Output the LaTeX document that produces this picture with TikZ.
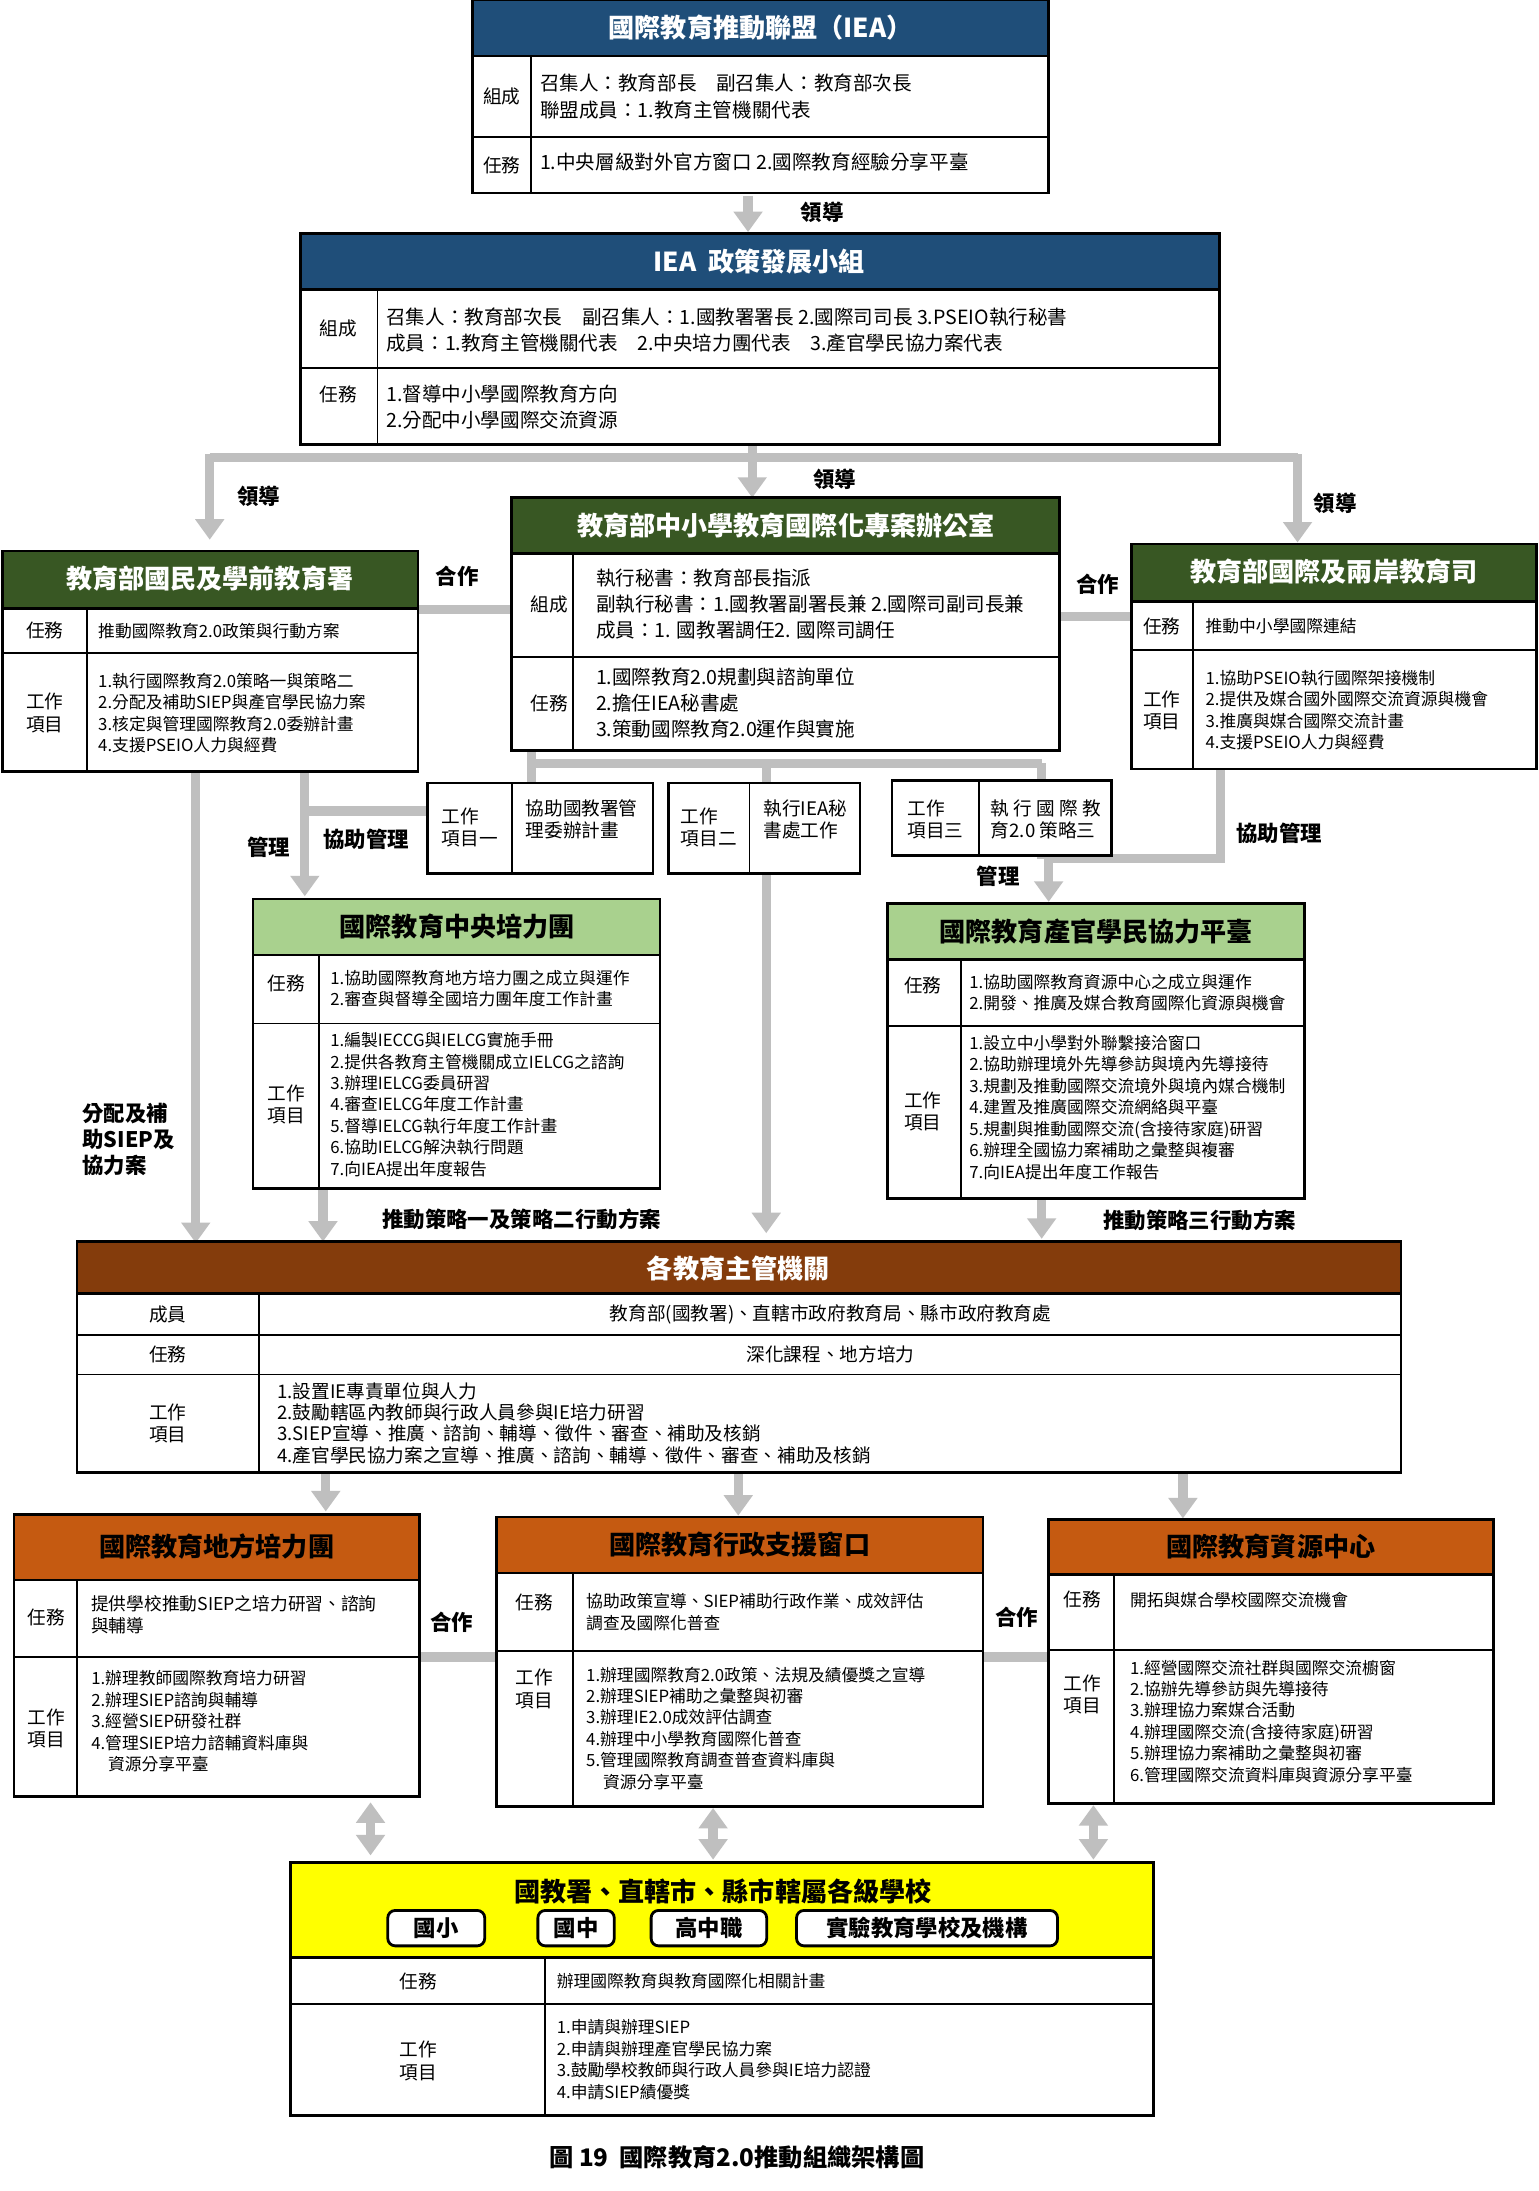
\documentclass[tikz,border=0pt]{standalone}
\usepackage{fontspec}
\setmainfont{Noto Sans CJK TC}
\usetikzlibrary{arrows.meta}
\definecolor{gb}{HTML}{BFBFBF}
\definecolor{iblue}{HTML}{1F4E79}
\definecolor{dgreen}{HTML}{385723}
\definecolor{lgreen}{HTML}{A9D18E}
\definecolor{brown}{HTML}{843C0C}
\definecolor{orng}{HTML}{C55A11}
\definecolor{yel}{HTML}{FFFF00}
\tikzset{
 bx/.style={draw=black,line width=1.5pt},
 ln/.style={draw=black,line width=1pt},
 T/.style={inner sep=0pt,anchor=west,align=left,font=\fontsize{9}{11.5}\selectfont},
 TM/.style={inner sep=0pt,anchor=west,align=left,font=\fontsize{10.5}{14}\selectfont},
 L/.style={inner sep=0pt,align=center,font=\fontsize{10}{12}\selectfont},
 TT/.style={inner sep=0pt,font=\bfseries\fontsize{14}{16}\selectfont},
 LB/.style={inner sep=0pt,font=\bfseries\fontsize{11.5}{14}\selectfont,align=left},
 ga/.style={draw=gb,line width=5pt,-{Triangle[width=15pt,length=11pt]}},
 gl/.style={draw=gb,line width=5pt},
 gd/.style={draw=gb,line width=5pt,{Triangle[width=15pt,length=11pt]}-{Triangle[width=15pt,length=11pt]}},
 btn/.style={draw=black,line width=1.5pt,rounded corners=4pt,fill=white,minimum height=19pt,inner sep=0pt,font=\bfseries\fontsize{12}{14}\selectfont},
}
\begin{document}
\begin{tikzpicture}[x=0.75pt,y=-0.75pt]
\useasboundingbox[fill=white] (0,0) rectangle (1100,1567);
% ---------- connectors (drawn first) ----------
\draw[ga] (535,140) -- (535,166);
\node[LB] at (588,152) {領導};
\draw[gl] (150,327) -- (928,327);
\draw[ga] (150,325) -- (150,386);
\draw[ga] (538,318) -- (538,356);
\draw[ga] (928,325) -- (928,388);
\node[LB] at (185,355) {領導};
\node[LB] at (597,343) {領導};
\node[LB] at (955,360) {領導};
\draw[gl] (299,436) -- (366,436); \node[LB] at (327,412) {合作};
\draw[gl] (758,441) -- (809,441); \node[LB] at (785,418) {合作};
\draw[gl] (380,546) -- (745,546);
\draw[gl] (380,537) -- (380,560);
\draw[gl] (745,546) -- (745,558);
\draw[ga] (548,546) -- (548,882);
\draw[ga] (140,552) -- (140,889);
\draw[ga] (218,552) -- (218,641);
\draw[gl] (218,580) -- (306,580);
\node[LB] at (192,606) {管理};
\node[LB] at (262,600) {協助管理};
\draw[gl] (873,550) -- (873,614) -- (750,614);
\draw[ga] (750,612) -- (750,645);
\draw[gl] (745,612) -- (745,614);
\node[LB] at (714,627) {管理};
\node[LB] at (915,596) {協助管理};
\node[LB,align=left] at (92,815) {分配及補\\助SIEP及\\協力案};
\draw[ga] (231,850) -- (231,888);
\node[LB] at (373,872) {推動策略一及策略二行動方案};
\draw[ga] (745,857) -- (745,886);
\node[LB] at (858,873) {推動策略三行動方案};
\draw[ga] (233,1053) -- (233,1081);
\draw[ga] (528,1053) -- (528,1084);
\draw[ga] (846,1053) -- (846,1086);
\draw[gl] (300,1185) -- (355,1185); \node[LB] at (323,1160) {合作};
\draw[gl] (703,1185) -- (750,1185); \node[LB] at (727,1157) {合作};
\draw[gd] (265,1289) -- (265,1327);
\draw[gd] (510,1293) -- (510,1330);
\draw[gd] (782,1291) -- (782,1330);
% ---------- IEA ----------
\draw[bx,fill=iblue] (338,0) rectangle (750,40);
\node[TT,text=white] (iea) at (544,20) {國際教育推動聯盟（IEA）};
\draw[bx] (338,40) rectangle (750,138);
\draw[ln] (338,98) -- (750,98); \draw[ln] (380,40) -- (380,138);
\node[L] at (359,69) {組成}; \node[L] at (359,118) {任務};
\node[TM] at (386,69) {召集人：教育部長\quad 副召集人：教育部次長\\聯盟成員：1.教育主管機關代表};
\node[TM] at (386,116) {1.中央層級對外官方窗口\ 2.國際教育經驗分享平臺};
% ---------- policy group ----------
\draw[bx,fill=iblue] (215,167) rectangle (872,207);
\node[TT,text=white] (pg) at (543,187) {IEA\ \ 政策發展小組};
\draw[bx] (215,207) rectangle (872,318);
\draw[ln] (215,263) -- (872,263); \draw[ln] (270,207) -- (270,318);
\node[L] at (242,235) {組成}; \node[L] at (242,282) {任務};
\node[TM] at (276,236) {召集人：教育部次長\quad 副召集人：1.國教署署長\ 2.國際司司長\ 3.PSEIO執行秘書\\成員：1.教育主管機關代表\quad 2.中央培力團代表\quad 3.產官學民協力案代表};
\node[TM] at (276,291) {1.督導中小學國際教育方向\\2.分配中小學國際交流資源};
% ---------- middle office ----------
\draw[bx,fill=dgreen] (366,356) rectangle (758,396);
\node[TT,text=white] (mo) at (562,376) {教育部中小學教育國際化專案辦公室};
\draw[bx] (366,396) rectangle (758,537);
\draw[ln] (366,470) -- (758,470); \draw[ln] (410,396) -- (410,537);
\node[L] at (393,432) {組成}; \node[L] at (393,503) {任務};
\node[TM] at (426,432) {執行秘書：教育部長指派\\副執行秘書：1.國教署副署長兼\ 2.國際司副司長兼\\成員：1. 國教署調任2. 國際司調任};
\node[TM] at (426,503) {1.國際教育2.0規劃與諮詢單位\\2.擔任IEA秘書處\\3.策動國際教育2.0運作與實施};
% ---------- left dept ----------
\draw[bx,fill=dgreen] (2,394) rectangle (299,435);
\node[TT,text=white] (ld) at (150,414) {教育部國民及學前教育署};
\draw[bx] (2,435) rectangle (299,552);
\draw[ln] (2,467) -- (299,467); \draw[ln] (62,435) -- (62,552);
\node[L] at (32,451) {任務}; \node[L] at (32,510) {工作\\項目};
\node[T] at (70,451) {推動國際教育2.0政策與行動方案};
\node[T] at (70,510) {1.執行國際教育2.0策略一與策略二\\2.分配及補助SIEP與產官學民協力案\\3.核定與管理國際教育2.0委辦計畫\\4.支援PSEIO人力與經費};
% ---------- right dept ----------
\draw[bx,fill=dgreen] (809,389) rectangle (1099,430);
\node[TT,text=white] (rd) at (954,409) {教育部國際及兩岸教育司};
\draw[bx] (809,430) rectangle (1099,550);
\draw[ln] (809,465) -- (1099,465); \draw[ln] (853,430) -- (853,550);
\node[L] at (831,448) {任務}; \node[L] at (831,508) {工作\\項目};
\node[T] at (862,448) {推動中小學國際連結};
\node[T] at (862,508) {1.協助PSEIO執行國際架接機制\\2.提供及媒合國外國際交流資源與機會\\3.推廣與媒合國際交流計畫\\4.支援PSEIO人力與經費};
% ---------- small work boxes ----------
\draw[bx,fill=white] (306,560) rectangle (467,625); \draw[ln] (366,560) -- (366,625);
\node[L,align=left] (w1) at (336,592) {工作\\項目一};
\node[L,align=left] at (416,586) {協助國教署管\\理委辦計畫};
\draw[bx,fill=white] (478,560) rectangle (615,625); \draw[ln] (536,560) -- (536,625);
\node[L,align=left] (w2) at (507,592) {工作\\項目二};
\node[L,align=left] at (576,586) {執行IEA秘\\書處工作};
\draw[bx,fill=white] (638,558) rectangle (795,612); \draw[ln] (700,558) -- (700,612);
\node[L,align=left] (w3) at (669,586) {工作\\項目三};
\node[L,align=left] at (748,586) {執 行 國 際 教\\育2.0 策略三};
% ---------- central team ----------
\draw[bx,fill=lgreen] (181,643) rectangle (472,683);
\node[TT] (ct) at (327,663) {國際教育中央培力團};
\draw[bx] (181,683) rectangle (472,850);
\draw[ln] (181,732) -- (472,732); \draw[ln] (228,683) -- (228,850);
\node[L] at (205,703) {任務}; \node[L] at (205,790) {工作\\項目};
\node[T] at (236,707) {1.協助國際教育地方培力團之成立與運作\\2.審查與督導全國培力團年度工作計畫};
\node[T] at (236,790) {1.編製IECCG與IELCG實施手冊\\2.提供各教育主管機關成立IELCG之諮詢\\3.辦理IELCG委員研習\\4.審查IELCG年度工作計畫\\5.督導IELCG執行年度工作計畫\\6.協助IELCG解決執行問題\\7.向IEA提出年度報告};
% ---------- platform ----------
\draw[bx,fill=lgreen] (635,646) rectangle (933,686);
\node[TT] (pf) at (784,666) {國際教育產官學民協力平臺};
\draw[bx] (635,686) rectangle (933,857);
\draw[ln] (635,734) -- (933,734); \draw[ln] (687,686) -- (687,857);
\node[L] at (660,705) {任務}; \node[L] at (660,795) {工作\\項目};
\node[T] at (693,710) {1.協助國際教育資源中心之成立與運作\\2.開發、推廣及媒合教育國際化資源與機會};
\node[T] at (693,792) {1.設立中小學對外聯繫接洽窗口\\2.協助辦理境外先導參訪與境內先導接待\\3.規劃及推動國際交流境外與境內媒合機制\\4.建置及推廣國際交流網絡與平臺\\5.規劃與推動國際交流(含接待家庭)研習\\6.辦理全國協力案補助之彙整與複審\\7.向IEA提出年度工作報告};
% ---------- main authority ----------
\draw[bx,fill=brown] (55,888) rectangle (1002,925);
\node[TT,text=white] (ma) at (528,907) {各教育主管機關};
\draw[bx] (55,925) rectangle (1002,1053);
\draw[ln] (55,955) -- (1002,955); \draw[ln] (55,983) -- (1002,983); \draw[ln] (185,925) -- (185,1053);
\node[L] at (120,940) {成員}; \node[L] at (120,969) {任務}; \node[L] at (120,1018) {工作\\項目};
\node[L] at (594,940) {教育部(國教署)、直轄市政府教育局、縣市政府教育處};
\node[L] at (594,969) {深化課程、地方培力};
\node[T,font=\fontsize{10}{11.3}\selectfont] at (198,1018) {1.設置IE專責單位與人力\\2.鼓勵轄區內教師與行政人員參與IE培力研習\\3.SIEP宣導、推廣、諮詢、輔導、徵件、審查、補助及核銷\\4.產官學民協力案之宣導、推廣、諮詢、輔導、徵件、審查、補助及核銷};
% ---------- bottom three ----------
\draw[bx,fill=orng] (10,1083) rectangle (300,1130);
\node[TT] (lt) at (155,1106) {國際教育地方培力團};
\draw[bx] (10,1130) rectangle (300,1285);
\draw[ln] (10,1185) -- (300,1185); \draw[ln] (55,1130) -- (55,1285);
\node[L] at (33,1157) {任務}; \node[L] at (33,1236) {工作\\項目};
\node[T,font=\fontsize{9.5}{12}\selectfont] at (65,1155) {提供學校推動SIEP之培力研習、諮詢\\與輔導};
\node[T] at (65,1231) {1.辦理教師國際教育培力研習\\2.辦理SIEP諮詢與輔導\\3.經營SIEP研發社群\\4.管理SIEP培力諮輔資料庫與\\\quad 資源分享平臺};
\draw[bx,fill=orng] (355,1085) rectangle (703,1125);
\node[TT] (aw) at (529,1105) {國際教育行政支援窗口};
\draw[bx] (355,1125) rectangle (703,1292);
\draw[ln] (355,1181) -- (703,1181); \draw[ln] (410,1125) -- (410,1292);
\node[L] at (382,1146) {任務}; \node[L] at (382,1208) {工作\\項目};
\node[T] at (419,1153) {協助政策宣導、SIEP補助行政作業、成效評估\\調查及國際化普查};
\node[T] at (419,1236) {1.辦理國際教育2.0政策、法規及績優獎之宣導\\2.辦理SIEP補助之彙整與初審\\3.辦理IE2.0成效評估調查\\4.辦理中小學教育國際化普查\\5.管理國際教育調查普查資料庫與\\\quad 資源分享平臺};
\draw[bx,fill=orng] (750,1087) rectangle (1068,1126);
\node[TT] (rc) at (909,1106) {國際教育資源中心};
\draw[bx] (750,1126) rectangle (1068,1290);
\draw[ln] (750,1180) -- (1068,1180); \draw[ln] (797,1126) -- (797,1290);
\node[L] at (774,1144) {任務}; \node[L] at (774,1212) {工作\\項目};
\node[T] at (808,1144) {開拓與媒合學校國際交流機會};
\node[T] at (808,1231) {1.經營國際交流社群與國際交流櫥窗\\2.協辦先導參訪與先導接待\\3.辦理協力案媒合活動\\4.辦理國際交流(含接待家庭)研習\\5.辦理協力案補助之彙整與初審\\6.管理國際交流資料庫與資源分享平臺};
% ---------- schools ----------
\draw[bx,fill=yel] (208,1332) rectangle (825,1400);
\node[TT] (sc) at (517,1353) {國教署、直轄市、縣市轄屬各級學校};
\node[btn,minimum width=52pt] at (312,1379) {國小};
\node[btn,minimum width=41pt] at (412,1379) {國中};
\node[btn,minimum width=62pt] at (507,1379) {高中職};
\node[btn,minimum width=140pt] at (663,1379) {實驗教育學校及機構};
\draw[bx] (208,1400) rectangle (825,1513);
\draw[ln] (208,1433) -- (825,1433); \draw[ln] (390,1400) -- (390,1513);
\node[L] at (299,1417) {任務}; \node[L] at (299,1474) {工作\\項目};
\node[T] at (398,1417) {辦理國際教育與教育國際化相關計畫};
\node[T] at (398,1473) {1.申請與辦理SIEP\\2.申請與辦理產官學民協力案\\3.鼓勵學校教師與行政人員參與IE培力認證\\4.申請SIEP績優獎};
\node[inner sep=0pt,font=\bfseries\fontsize{13}{15}\selectfont] (cap) at (527,1543) {圖 19\ \ 國際教育2.0推動組織架構圖};
\end{tikzpicture}
\end{document}
